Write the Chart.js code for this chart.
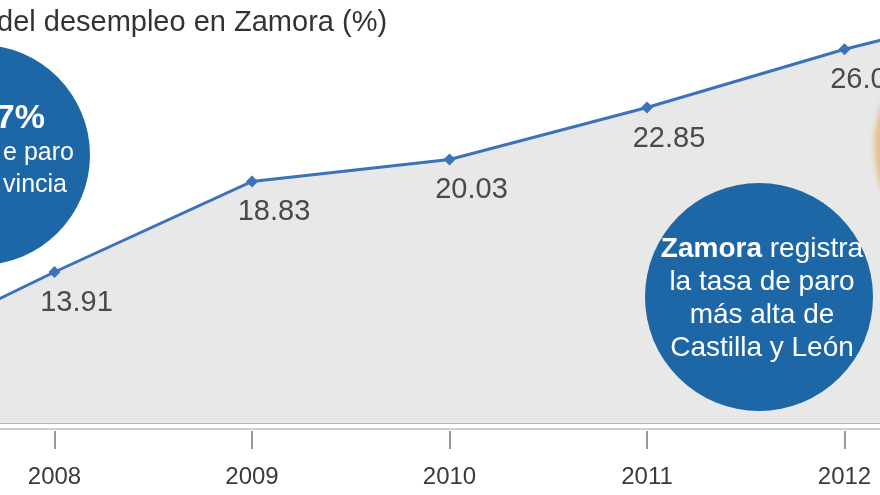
<!DOCTYPE html>
<html>
<head>
<meta charset="utf-8">
<script src="https://cdn.jsdelivr.net/npm/chart.js@4.4.1/dist/chart.umd.min.js"></script>
<style>
  html, body { margin: 0; padding: 0; }
  body {
    width: 880px; height: 495px; position: relative; overflow: hidden;
    background: #fff; font-family: "Liberation Sans", Arial, sans-serif;
  }
  #myChart { position: absolute; left: -203px; top: -30px; }
  .title { position: absolute; left: -3px; top: 7px; font-size: 29px; line-height: 1; color: #333; white-space: nowrap; }
  .circle { position: absolute; border-radius: 50%; background: #1d67a6; }
  .ln { position: absolute; color: #fff; line-height: 1; white-space: nowrap; }
  .ring { position: absolute; border-radius: 50%; border: 5px solid #e39a2c; filter: blur(3px); opacity: 0.85; }
  .note { position: absolute; left: 642px; top: 231px; width: 240px; text-align: center; color: #fff; font-size: 28px; line-height: 33px; }
</style>
</head>
<body>
<canvas id="myChart" width="1305" height="555"></canvas>

<div class="title">del desempleo en Zamora (%)</div>

<div class="circle" style="left:-130px; top:45px; width:220px; height:220px;"></div>
<div class="ln" style="right:835px; top:99px; font-size:34px; font-weight:bold;">7%</div>
<div class="ln" style="right:806px; top:139px; font-size:25px;">e paro</div>
<div class="ln" style="right:813px; top:171px; font-size:25px;">vincia</div>

<div class="ring" style="left:876px; top:18px; width:248px; height:248px;"></div>

<div class="circle" style="left:645px; top:183px; width:228px; height:228px;"></div>
<div class="note"><b>Zamora</b> registra<br>la tasa de paro<br>más alta de<br>Castilla y León</div>

<script>
var ctx = document.getElementById("myChart");

// years and unemployment rate (%), first and last fall outside the crop
const years = ["2007", "2008", "2009", "2010", "2011", "2012", "2013"];
const rates = [8.7, 13.91, 18.83, 20.03, 22.85, 26.02, 28.7];

const blue = "#3d72b8";

// value printed under each point
const valueLabels = {
  id: "valueLabels",
  afterDatasetsDraw(chart) {
    const c = chart.ctx;
    const meta = chart.getDatasetMeta(0);
    c.save();
    c.font = '29px "Liberation Sans", Arial, sans-serif';
    c.fillStyle = "#4a4a4a";
    c.textAlign = "center";
    c.textBaseline = "middle";
    meta.data.forEach(function (pt, i) {
      c.fillText(rates[i].toFixed(2), pt.x + 22, pt.y + 31);
    });
    c.restore();
  },
  // second, lighter rule just below the axis line
  afterDraw(chart) {
    const c = chart.ctx;
    const a = chart.chartArea;
    c.save();
    c.strokeStyle = "#cfcfcf";
    c.lineWidth = 2;
    c.beginPath();
    c.moveTo(0, a.bottom + 6);
    c.lineTo(chart.width, a.bottom + 6);
    c.stroke();
    c.restore();
  },
};

const data = {
  labels: years,
  datasets: [
    {
      label: "Tasa de paro",
      data: rates,
      fill: "start",
      backgroundColor: "#e8e8e8",
      borderColor: blue,
      borderWidth: 3,
      tension: 0,
      pointStyle: "rectRot",
      pointRadius: 6,
      pointBackgroundColor: blue,
      pointBorderWidth: 0,
    },
  ],
};

const config = {
  type: "line",
  data: data,
  options: {
    responsive: false,
    animation: false,
    devicePixelRatio: 1,
    layout: { padding: { left: 60, right: 60, top: 0, bottom: 0 } },
    plugins: {
      legend: { display: false },
      tooltip: { enabled: false },
    },
    scales: {
      x: {
        offset: false,
        afterFit: function (s) { s.height = 102; },
        border: { display: true, color: "#b5b5b5", width: 2 },
        grid: {
          drawOnChartArea: false,
          drawTicks: true,
          tickLength: 26,
          color: "#999",
          lineWidth: 2,
          tickBorderDash: [0, 7, 19, 100],
        },
        ticks: {
          autoSkip: false,
          maxRotation: 0,
          padding: 14,
          color: "#3a3a3a",
          font: { family: '"Liberation Sans", Arial, sans-serif', size: 24 },
        },
      },
      y: {
        display: false,
        min: 5.7,
        max: 30,
      },
    },
  },
  plugins: [valueLabels],
};

var myChart = new Chart(ctx, config);
</script>
</body>
</html>
